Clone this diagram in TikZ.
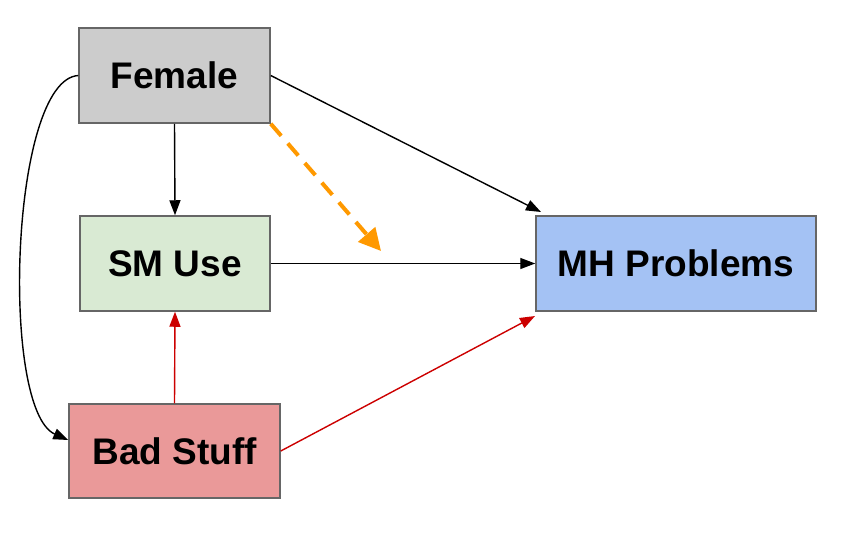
\documentclass[tikz,border=0pt]{standalone}
\usepackage{fontspec}
\setmainfont{Liberation Sans}
\usetikzlibrary{arrows.meta}
\definecolor{boxline}{HTML}{666666}
\definecolor{femfill}{HTML}{CCCCCC}
\definecolor{smfill}{HTML}{D9EAD3}
\definecolor{badfill}{HTML}{EA9999}
\definecolor{mhfill}{HTML}{A4C2F4}
\definecolor{orangeA}{HTML}{FF9900}
\definecolor{redA}{HTML}{CC0000}
\tikzset{
  box/.style={draw=boxline, line width=1.5pt, inner sep=0pt, font=\fontsize{37}{42}\selectfont\bfseries},
  conn/.style={line width=1.4pt, -{Triangle[length=15pt,width=11pt]}},
}
\begin{document}
\begin{tikzpicture}[x=1pt,y=-1pt]
\useasboundingbox (0,0) rectangle (842,544);
\node[box, fill=femfill, minimum width=191pt, minimum height=95pt] (fem) at (174.5,75.5) {Female};
\node[box, fill=smfill, minimum width=190pt, minimum height=95pt] (sm) at (175,263.5) {SM Use};
\node[box, fill=badfill, minimum width=211pt, minimum height=94pt] (bad) at (174.5,451) {Bad Stuff};
\node[box, fill=mhfill, minimum width=280pt, minimum height=95pt] (mh) at (676,263.5) {MH Problems};
\coordinate (mod) at (381,251);
\coordinate (mhin) at (535,316);
\draw[conn] (fem.east) -- (541,212);
\draw[conn] (fem.south) -- (sm.north);
\draw[conn] (sm.east) -- (mh.west);
\draw[conn, redA] (bad.north) -- (sm.south);
\draw[conn, redA] (bad.east) -- (mhin);
\draw[conn, orangeA, line width=4pt, dash pattern=on 16pt off 10pt, -{Triangle[length=22pt,width=22pt]}] (fem.south east) -- (mod);
\draw[conn] (fem.west) .. controls (10,80) and (0,410) .. (bad.west |- 0,440);
\end{tikzpicture}
\end{document}
